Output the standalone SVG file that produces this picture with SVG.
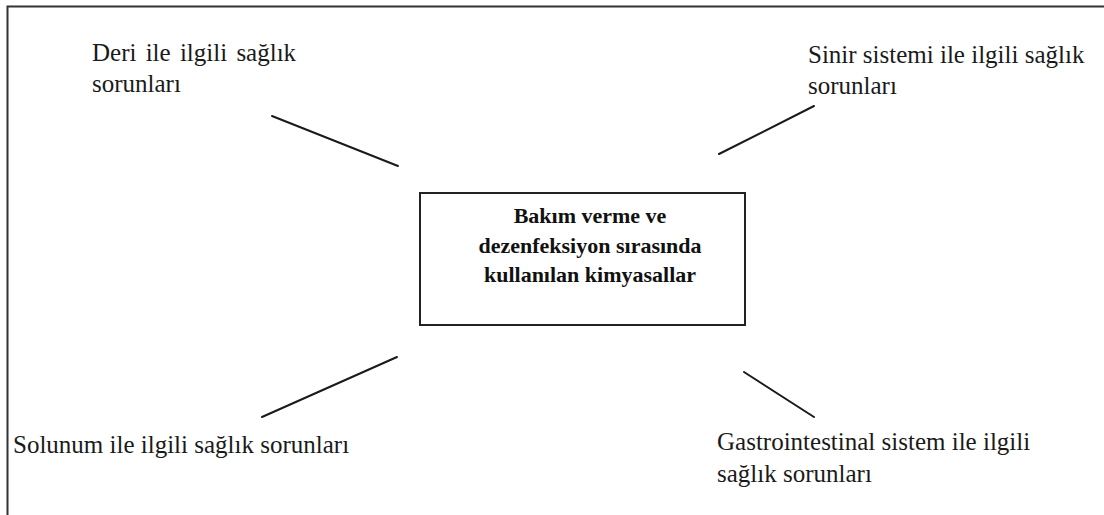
<svg xmlns="http://www.w3.org/2000/svg" width="1104" height="515" viewBox="0 0 1104 515">
<style>
.lbl{font-family:"Liberation Serif","Times New Roman",serif;font-size:25px;fill:#1a1a1a}
.ttl{font-family:"Liberation Serif","Times New Roman",serif;font-size:22px;font-weight:bold;fill:#111;text-anchor:middle}
.conn line{stroke:#1a1a1a;stroke-width:2;stroke-linecap:round}
.frame{stroke:#333;stroke-width:2;fill:none}
</style>
<rect width="1104" height="515" fill="#fff"/>
<path class="frame" d="M7.5,515 V6.5 H1104"/>
<g id="center">
<rect x="420" y="193" width="325" height="132" fill="#fff" stroke="#222" stroke-width="2"/>
<text class="ttl" x="590" y="223">Bakım verme ve</text>
<text class="ttl" x="590" y="253">dezenfeksiyon sırasında</text>
<text class="ttl" x="590" y="282">kullanılan kimyasallar</text>
</g>
<g id="deri">
<text class="lbl" x="92" y="61" word-spacing="3">Deri ile ilgili sağlık</text>
<text class="lbl" x="92" y="92">sorunları</text>
</g>
<g id="sinir">
<text class="lbl" x="808" y="63">Sinir sistemi ile ilgili sağlık</text>
<text class="lbl" x="808" y="94">sorunları</text>
</g>
<g id="solunum">
<text class="lbl" x="13" y="453">Solunum ile ilgili sağlık sorunları</text>
</g>
<g id="gastro">
<text class="lbl" x="717" y="450">Gastrointestinal sistem ile ilgili</text>
<text class="lbl" x="717" y="482">sağlık sorunları</text>
</g>
<g id="connectors" class="conn">
<line x1="272" y1="116" x2="398" y2="166"/>
<line x1="719" y1="154" x2="814" y2="106"/>
<line x1="397" y1="357" x2="262" y2="417"/>
<line x1="744" y1="372" x2="814" y2="417"/>
</g>
</svg>
